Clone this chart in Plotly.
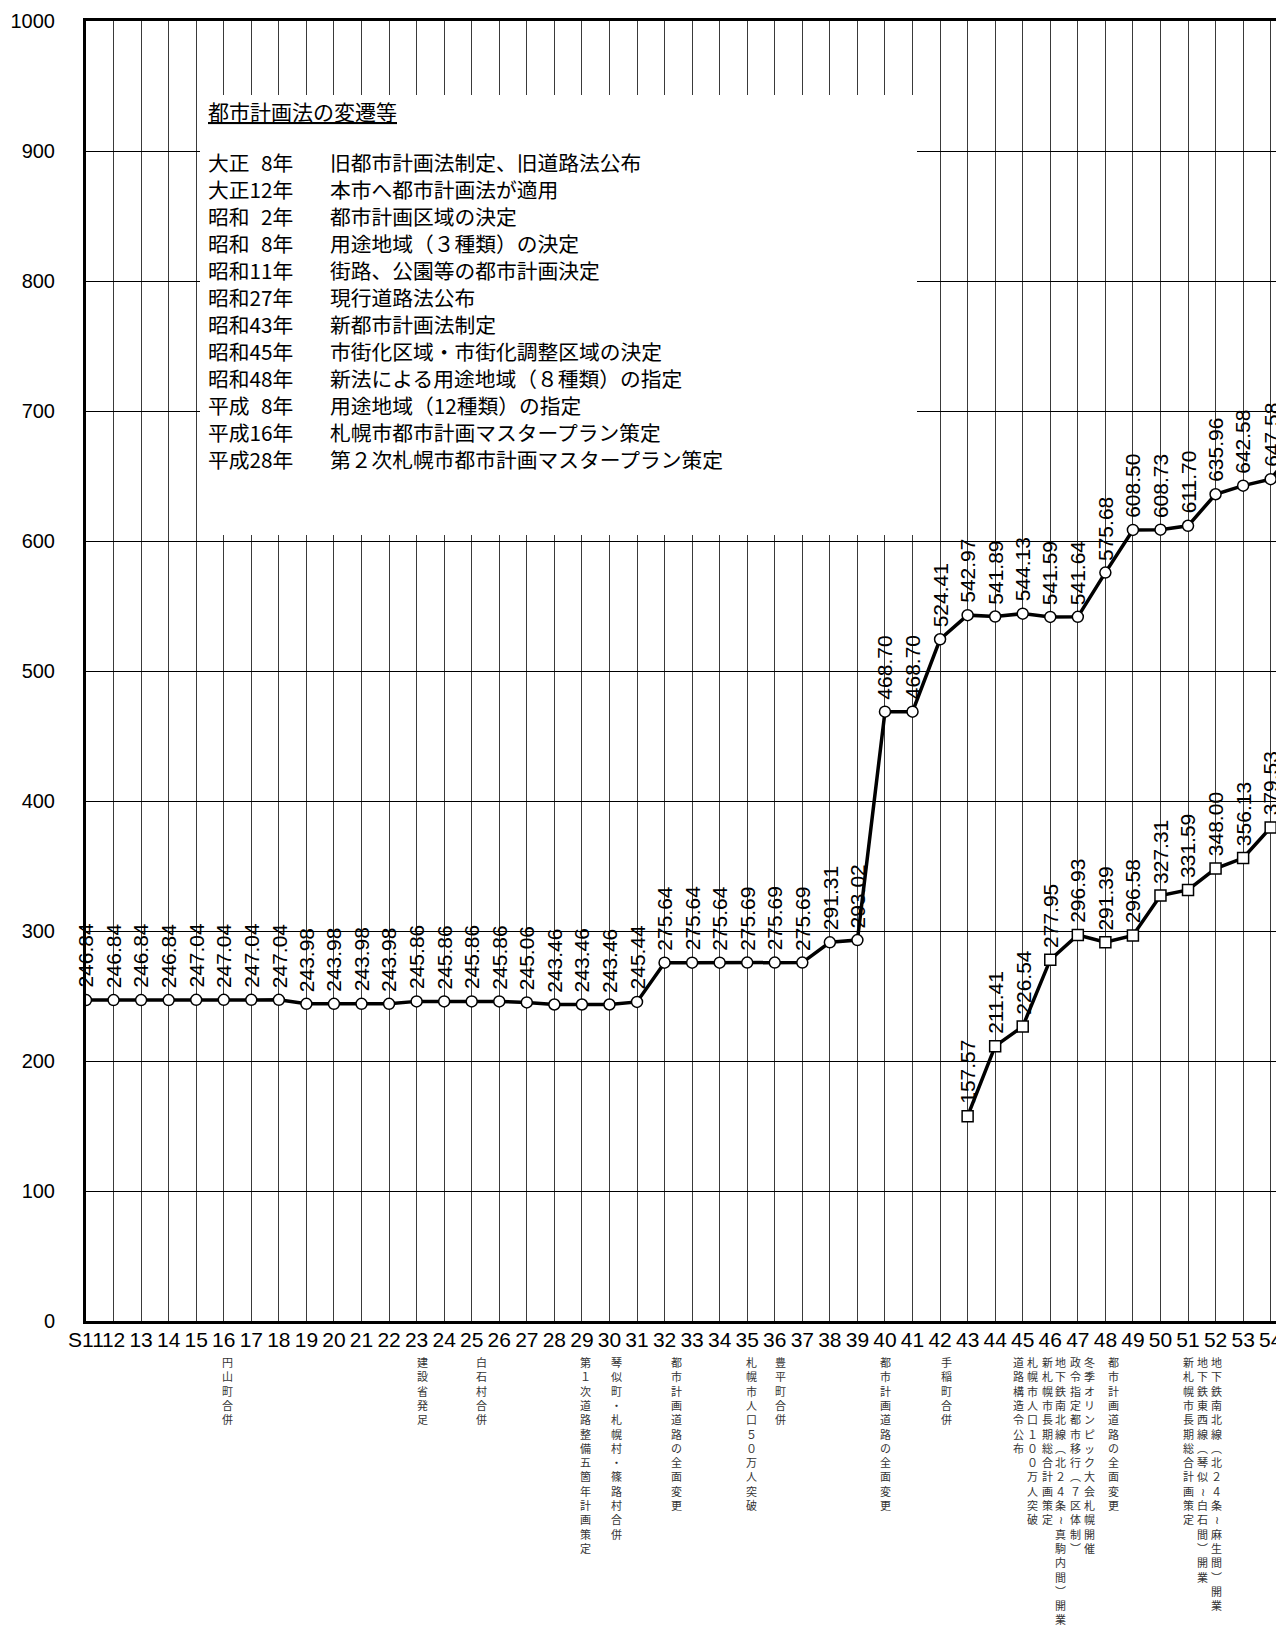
import plotly.graph_objects as go

# ---------------- data ----------------
CATEGORIES = ["S11", "12", "13", "14", "15", "16", "17", "18", "19", "20",
              "21", "22", "23", "24", "25", "26", "27", "28", "29", "30",
              "31", "32", "33", "34", "35", "36", "37", "38", "39", "40",
              "41", "42", "43", "44", "45", "46", "47", "48", "49", "50",
              "51", "52", "53", "54", "55"]

# circle series (S11 .. 54, plus the S55 value that runs off the right edge)
SERIES_A = [246.84, 246.84, 246.84, 246.84, 247.04, 247.04, 247.04, 247.04,
            243.98, 243.98, 243.98, 243.98, 245.86, 245.86, 245.86, 245.86,
            245.06, 243.46, 243.46, 243.46, 245.44, 275.64, 275.64, 275.64,
            275.69, 275.69, 275.69, 291.31, 293.02, 468.70, 468.70, 524.41,
            542.97, 541.89, 544.13, 541.59, 541.64, 575.68, 608.50, 608.73,
            611.70, 635.96, 642.58, 647.58, 674.2]

# square series starts at S43
SERIES_B_START = "43"
SERIES_B = [157.57, 211.41, 226.54, 277.95, 296.93, 291.39, 296.58, 327.31,
            331.59, 348.00, 356.13, 379.53, 394.3]

LABELLED_LAST = "54"   # last category that carries a value label

Y_TICKS = [0, 100, 200, 300, 400, 500, 600, 700, 800, 900, 1000]

BOX_TITLE = "都市計画法の変遷等"
BOX_YEARS = ["大正\u20078年", "大正12年", "昭和\u20072年", "昭和\u20078年", "昭和11年",
             "昭和27年", "昭和43年", "昭和45年", "昭和48年", "平成\u20078年",
             "平成16年", "平成28年"]
BOX_EVENTS = ["旧都市計画法制定、旧道路法公布",
              "本市へ都市計画法が適用",
              "都市計画区域の決定",
              "用途地域（３種類）の決定",
              "街路、公園等の都市計画決定",
              "現行道路法公布",
              "新都市計画法制定",
              "市街化区域・市街化調整区域の決定",
              "新法による用途地域（８種類）の指定",
              "用途地域（12種類）の指定",
              "札幌市都市計画マスタープラン策定",
              "第２次札幌市都市計画マスタープラン策定"]

NOTE_CATS = ["16", "23", "25", "29", "30", "32", "35", "36", "40", "42",
             "45", "45", "46", "46", "47", "47", "48", "51", "51", "52"]
NOTE_TEXTS = ["円山町合併",
              "建設省発足",
              "白石村合併",
              "第１次道路整備五箇年計画策定",
              "琴似町・札幌村・篠路村合併",
              "都市計画道路の全面変更",
              "札幌市人口５０万人突破",
              "豊平町合併",
              "都市計画道路の全面変更",
              "手稲町合併",
              "道路構造令公布",
              "札幌市人口１００万人突破",
              "新札幌市長期総合計画策定",
              "地下鉄南北線（北２４条～真駒内間）開業",
              "政令指定都市移行（７区体制）",
              "冬季オリンピック大会札幌開催",
              "都市計画道路の全面変更",
              "新札幌市長期総合計画策定",
              "地下鉄東西線（琴似～白石間）開業",
              "地下鉄南北線（北２４条～麻生間）開業"]

# ---------------- layout constants ----------------
W, H = 1284, 1630
ML, MR, MT, MB = 78, 7, 13, 317
PW, PH = W - ML - MR, H - MT - MB
X_MAX = 43.52
NOTE_XSHIFT = [4, 6, 10, 4, 7, 12, 4, 6, 1, 6, -4, 10, -3, 10, -2, 12, 8, 0, 14, 1]
BOX_LINE_PX = 27.0                    # line pitch inside the text box
BOX_FONT = BOX_LINE_PX / 1.3          # plotly line spacing is 1.3 em
BOX_FIRST_LINE = 154
BOX_MID = BOX_FIRST_LINE + BOX_LINE_PX * (len(BOX_YEARS) - 1) / 2

NUM_FONT = "Arial, 'Liberation Sans', sans-serif"
JP_FONT = "'Noto Sans CJK JP', sans-serif"


def pxx(p):
    return (p - ML) / PW


def pxy(p):
    return (H - MB - p) / PH


xs_a = list(range(len(SERIES_A)))
b0 = CATEGORIES.index(SERIES_B_START)
xs_b = list(range(b0, b0 + len(SERIES_B)))
last = CATEGORIES.index(LABELLED_LAST)

fig = go.Figure()
fig.add_trace(go.Scatter(
    x=xs_a, y=SERIES_A, mode="lines+markers",
    line=dict(color="black", width=3.5),
    marker=dict(symbol="circle", size=11, color="white",
                line=dict(color="black", width=1.5)),
    showlegend=False, hoverinfo="skip"))
fig.add_trace(go.Scatter(
    x=xs_b, y=SERIES_B, mode="lines+markers",
    line=dict(color="black", width=3.5),
    marker=dict(symbol="square", size=11, color="white",
                line=dict(color="black", width=1.5)),
    showlegend=False, hoverinfo="skip"))

ann = []
for xs, ys in ((xs_a, SERIES_A), (xs_b, SERIES_B)):
    for xv, yv in zip(xs, ys):
        if xv <= last:
            ann.append(dict(x=xv, y=yv, xref="x", yref="y", text=f"{yv:.2f}",
                            textangle=-90, showarrow=False, xanchor="center",
                            yanchor="bottom", yshift=10,
                            font=dict(family=NUM_FONT, size=21, color="black")))

# text box contents
ann.append(dict(x=pxx(198), y=pxy(103), xref="paper", yref="paper",
                text=f"<u>{BOX_TITLE}</u>", showarrow=False,
                xanchor="left", yanchor="middle",
                font=dict(family=JP_FONT, size=21, color="black")))
ann.append(dict(x=pxx(198), y=pxy(BOX_MID), xref="paper", yref="paper",
                text="<br>".join(BOX_YEARS), showarrow=False,
                xanchor="left", yanchor="middle", align="left",
                font=dict(family=JP_FONT, size=BOX_FONT, color="black")))
ann.append(dict(x=pxx(320), y=pxy(BOX_MID), xref="paper", yref="paper",
                text="<br>".join(BOX_EVENTS),
                showarrow=False, xanchor="left", yanchor="middle", align="left",
                font=dict(family=JP_FONT, size=BOX_FONT, color="black")))

# vertical notes under the axis
VERT = {"（": "︵", "）": "︶", "～": "≀", "ー": "︱"}
for cat, txt, dx in zip(NOTE_CATS, NOTE_TEXTS, NOTE_XSHIFT):
    chars = [VERT.get(c, c) for c in txt]
    ann.append(dict(x=CATEGORIES.index(cat), y=pxy(1344), xref="x", yref="paper",
                    text="<br>".join(chars), showarrow=False,
                    xanchor="center", yanchor="top", align="center", xshift=dx,
                    font=dict(family=JP_FONT, size=11, color="#333333")))

shapes = [dict(type="rect", xref="paper", yref="paper",
               x0=pxx(192), x1=pxx(909), y0=pxy(527), y1=pxy(87),
               fillcolor="white", line=dict(width=0), layer="above")]

fig.update_layout(
    width=W, height=H,
    margin=dict(l=ML, r=MR, t=MT, b=MB, autoexpand=False),
    paper_bgcolor="white", plot_bgcolor="white",
    annotations=ann, shapes=shapes,
    showlegend=False,
)
fig.update_xaxes(
    range=[0, X_MAX], tickmode="array",
    tickvals=list(range(len(CATEGORIES))), ticktext=CATEGORIES,
    tickangle=0,
    showgrid=True, gridcolor="#3a3a3a", gridwidth=1,
    showline=True, linecolor="black", linewidth=3, mirror=True,
    ticks="", ticklabelstandoff=-2, zeroline=False,
    tickfont=dict(family=NUM_FONT, size=21, color="black"),
)
fig.update_yaxes(
    range=[0, 1000], tickmode="array", tickvals=Y_TICKS,
    showgrid=True, gridcolor="black", gridwidth=1,
    showline=True, linecolor="black", linewidth=3,
    ticks="", ticklabelstandoff=24, zeroline=False,
    tickfont=dict(family=NUM_FONT, size=20, color="black"),
)

fig.write_html("out.html")
